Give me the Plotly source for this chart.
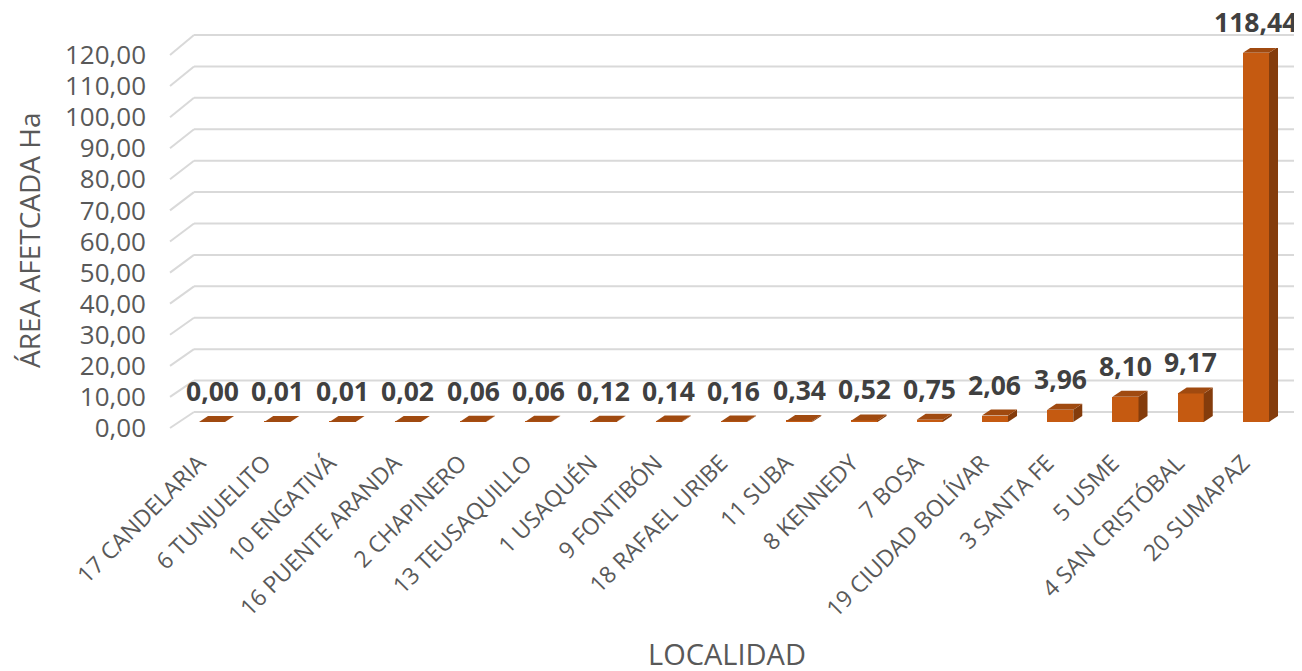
import plotly.graph_objects as go

# ---- data ----
localidades = ["17 CANDELARIA", "6 TUNJUELITO", "10 ENGATIVÁ", "16 PUENTE ARANDA",
               "2 CHAPINERO", "13 TEUSAQUILLO", "1 USAQUÉN", "9 FONTIBÓN",
               "18 RAFAEL URIBE", "11 SUBA", "8 KENNEDY", "7 BOSA",
               "19 CIUDAD BOLÍVAR", "3 SANTA FE", "5 USME", "4 SAN CRISTÓBAL", "20 SUMAPAZ"]
area_ha = [0.00, 0.01, 0.01, 0.02, 0.06, 0.06, 0.12, 0.14, 0.16, 0.34, 0.52, 0.75,
           2.06, 3.96, 8.10, 9.17, 118.44]
y_ticks = [0, 10, 20, 30, 40, 50, 60, 70, 80, 90, 100, 110, 120]
y_title = "ÁREA AFETCADA Ha"
x_title = "LOCALIDAD"

# ---- geometry / style ----
W, H = 1302, 671
OFF = 8  # page body margin offset
FONT = "Open Sans"
FRONT = "#C55A11"
SIDE = "#843C0C"
TOP = "#A04A10"
GRID = "#D9D9D9"

def fy(px):  # screen pixel from top -> paper fraction
    return 1 - (px - OFF) / H

def fx(px):
    return (px - OFF) / W

YMAX = 120
x_lo, x_hi = -0.644, 16.675
bar_w = 0.40
px_per_x = (1300 - 170) / (x_hi - x_lo)
px_per_y = (422 - 48) / YMAX
ddx = 9 / px_per_x
ddy = 6 / px_per_y

xs = list(range(len(localidades)))

fig = go.Figure()
fig.add_trace(go.Bar(x=xs, y=area_ha, width=bar_w, marker=dict(color=FRONT, line=dict(width=0)),
                     xaxis="x", yaxis="y", hoverinfo="x+y"))
fig.add_trace(go.Scatter(x=[0], y=[0], xaxis="x", yaxis="y2", mode="markers",
                         marker=dict(opacity=0), hoverinfo="skip", showlegend=False))

shapes = []
hw = bar_w / 2
for i, v in zip(xs, area_ha):
    shapes.append(dict(type="path", xref="x", yref="y", layer="above",
                       path=f"M {i+hw},0 L {i+hw+ddx},{ddy} L {i+hw+ddx},{v+ddy} L {i+hw},{v} Z",
                       fillcolor=SIDE, line=dict(width=0)))
    shapes.append(dict(type="path", xref="x", yref="y", layer="above",
                       path=f"M {i-hw},{v} L {i+hw},{v} L {i+hw+ddx},{v+ddy} L {i-hw+ddx},{v+ddy} Z",
                       fillcolor=TOP, line=dict(width=0)))

# walls: left diagonals and back-wall gridlines
lab_d = (fy(428), fy(55))
back_d = (fy(412), fy(35))
for t in y_ticks:
    y0 = lab_d[0] + (lab_d[1] - lab_d[0]) * t / YMAX
    y1 = back_d[0] + (back_d[1] - back_d[0]) * t / YMAX
    shapes.append(dict(type="line", xref="paper", yref="paper", layer="below",
                       x0=fx(170), y0=y0, x1=fx(194), y1=y1,
                       line=dict(color=GRID, width=2)))
    shapes.append(dict(type="line", xref="paper", yref="paper", layer="below",
                       x0=fx(194), y0=y1, x1=fx(1310), y1=y1,
                       line=dict(color=GRID, width=2)))

annotations = []
for i, v in zip(xs, area_ha):
    annotations.append(dict(x=i, y=v, xref="x", yref="y", yshift=31, showarrow=False,
                            text=f"<b>{v:.2f}".replace(".", ",") + "</b>",
                            font=dict(family=FONT, size=26.5, color="#404040"),
                            xanchor="center", yanchor="middle", borderpad=0))
annotations.append(dict(x=fx(29), y=fy(240), xref="paper", yref="paper", showarrow=False,
                        text=y_title, textangle=-90, xanchor="center", yanchor="middle",
                        font=dict(family=FONT, size=28, color="#595959")))
annotations.append(dict(x=fx(727), y=fy(653), xref="paper", yref="paper", showarrow=False,
                        text=x_title, xanchor="center", yanchor="middle", borderpad=0,
                        font=dict(family=FONT, size=29, color="#595959")))

fig.update_layout(
    width=W, height=H, margin=dict(l=0, r=0, t=0, b=0, autoexpand=False),
    paper_bgcolor="white", plot_bgcolor="rgba(0,0,0,0)",
    showlegend=False, separators=",.",
    bargap=0,
    xaxis=dict(domain=[fx(170), fx(1300)], range=[x_lo, x_hi], anchor="y", automargin=False,
               tickmode="array", tickvals=xs, ticktext=localidades, tickangle=-45,
               tickfont=dict(family=FONT, size=23, color="#595959"),
               showgrid=False, zeroline=False, showline=False, ticks="",
               ticklabelstandoff=22, ticklabelshift=-13),
    yaxis=dict(domain=[fy(422), fy(48)], range=[0, YMAX], anchor="x", automargin=False,
               showgrid=False, zeroline=False, showticklabels=False, showline=False),
    yaxis2=dict(domain=[fy(428), fy(55)], range=[0, YMAX], anchor="free", position=fx(146),
                automargin=False,
                tickmode="array", tickvals=y_ticks,
                ticktext=[f"{t:.2f}".replace(".", ",") for t in y_ticks],
                tickfont=dict(family=FONT, size=26, color="#595959"),
                showgrid=False, zeroline=False, showline=False, ticks=""),
    shapes=shapes, annotations=annotations,
)

fig.write_html("out.html")
